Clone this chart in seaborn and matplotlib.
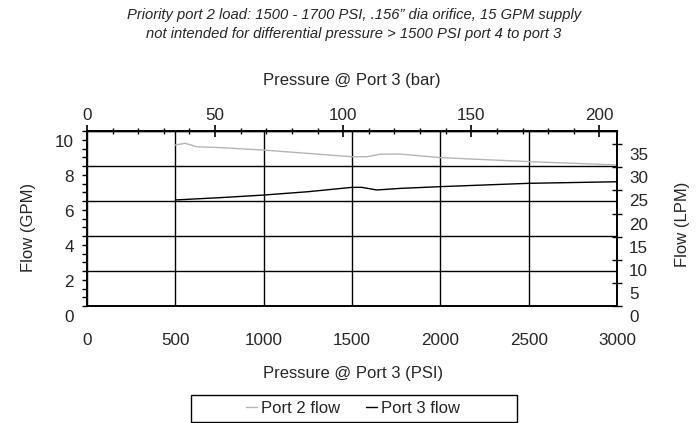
import numpy as np
import pandas as pd
import matplotlib
matplotlib.use("Agg")
import matplotlib.pyplot as plt
import matplotlib.transforms as mtransforms
from matplotlib.ticker import MultipleLocator
from matplotlib.patches import Rectangle
import seaborn as sns

# ---------------- data ----------------
title_lines = [
    "Priority port 2 load: 1500 - 1700 PSI, .156\u201d dia orifice, 15 GPM supply",
    "not intended for differential pressure > 1500 PSI port 4 to port 3",
]
series_names = ["Port 2 flow", "Port 3 flow"]
port2_psi = [500, 555, 621, 753, 1000, 1250, 1500, 1583, 1658, 1733, 1772, 2000, 2500, 3000]
port2_gpm = [9.20, 9.30, 9.10, 9.05, 8.91, 8.72, 8.53, 8.53, 8.67, 8.68, 8.68, 8.48, 8.25, 8.06]
port3_psi = [500, 753, 1000, 1250, 1500, 1555, 1640, 1772, 2000, 2500, 3000]
port3_gpm = [6.06, 6.19, 6.34, 6.53, 6.78, 6.78, 6.63, 6.72, 6.82, 7.01, 7.10]
x_ticks_psi = [0, 500, 1000, 1500, 2000, 2500, 3000]
x_ticks_bar = [0, 50, 100, 150, 200]
y_ticks_gpm = [0, 2, 4, 6, 8, 10]
y_ticks_lpm = [0, 5, 10, 15, 20, 25, 30, 35]
x_label_psi = "Pressure @ Port 3 (PSI)"
x_label_bar = "Pressure @ Port 3 (bar)"
y_label_gpm = "Flow (GPM)"
y_label_lpm = "Flow (LPM)"
PSI_PER_BAR = 14.5038
LPM_PER_GPM = 3.78541

df = pd.concat([
    pd.DataFrame({"psi": port2_psi, "gpm": port2_gpm, "series": series_names[0]}),
    pd.DataFrame({"psi": port3_psi, "gpm": port3_gpm, "series": series_names[1]}),
])

# ---------------- style ----------------
sns.set_style("white")
plt.rcParams["font.family"] = ["Liberation Sans", "DejaVu Sans"]
plt.rcParams["axes.linewidth"] = 1.0

TICK_FS = 12.3
LABEL_FS = 12
W, H, DPI = 700, 423, 100
fig = plt.figure(figsize=(W / DPI, H / DPI), dpi=DPI)
ax = fig.add_axes([87 / W, 1 - 306 / H, 530 / W, 175 / H])

palette = {series_names[0]: "#b5b5b5", series_names[1]: "#000000"}
sns.lineplot(data=df, x="psi", y="gpm", hue="series", palette=palette,
             estimator=None, linewidth=1.0, legend=False, ax=ax)
data_lines = list(ax.get_lines())

ax.set_xlim(0, 3000)
ax.set_ylim(0, 10)
ax.set_xticks(x_ticks_psi)
ax.xaxis.set_minor_locator(MultipleLocator(100))
ax.set_yticks(y_ticks_gpm)
ax.yaxis.set_minor_locator(MultipleLocator(0.5))
ax.grid(True, which="major", color="black", linewidth=1.0)
ax.set_axisbelow(True)
for s in ax.spines.values():
    s.set_color("black")
    s.set_linewidth(1.2)

ax.tick_params(axis="x", which="both", direction="out", length=3.6, width=1,
               color="black", labelsize=TICK_FS, pad=15.5, top=False)
ax.tick_params(axis="y", which="both", direction="out", length=3.6, width=1,
               color="black", labelsize=TICK_FS, pad=6)
ax.set_xlabel(x_label_psi, fontsize=LABEL_FS)
ax.set_ylabel(y_label_gpm, fontsize=LABEL_FS)
ax.xaxis.set_label_coords(0.502, -0.34)
ax.yaxis.set_label_coords(-0.0963, 0.451)

off_down = mtransforms.ScaledTranslation(0, -0.10, fig.dpi_scale_trans)
for lbl in ax.get_yticklabels():
    lbl.set_transform(lbl.get_transform() + off_down)

# right axis (LPM)
ax2 = ax.twinx()
ax2.set_ylim(0, 10 * LPM_PER_GPM)
ax2.set_yticks(y_ticks_lpm)
ax2.tick_params(axis="y", direction="inout", length=7.5, width=1, color="black",
                labelsize=TICK_FS, pad=5)
ax2.set_ylabel(y_label_lpm, fontsize=LABEL_FS)
ax2.yaxis.set_label_coords(1.109, 0.469)
for s in ax2.spines.values():
    s.set_color("black")
    s.set_linewidth(1.2)
for lbl in ax2.get_yticklabels():
    lbl.set_transform(lbl.get_transform() + off_down)

# top axis (bar)
secx = ax.secondary_xaxis("top", functions=(lambda p: p / PSI_PER_BAR,
                                            lambda b: b * PSI_PER_BAR))
secx.set_xticks(x_ticks_bar)
secx.xaxis.set_minor_locator(MultipleLocator(10))
secx.tick_params(axis="x", which="major", direction="inout", length=9, width=1.2,
                 color="black", labelsize=TICK_FS, pad=1)
secx.tick_params(axis="x", which="minor", direction="inout", length=5, width=1,
                 color="black")
secx.set_xlabel(x_label_bar, fontsize=LABEL_FS, labelpad=17)

# titles
fig.text(354 / W, 1 - 15 / H, title_lines[0], ha="center", va="center",
         fontsize=10.6, style="italic")
fig.text(354 / W, 1 - 34 / H, title_lines[1], ha="center", va="center",
         fontsize=10.6, style="italic")

# legend
fig.patches.append(Rectangle((191 / W, 1 - 422 / H), 326 / W, 27 / H,
                             transform=fig.transFigure, fill=False,
                             edgecolor="black", linewidth=1.0))
fig.legend(data_lines, series_names, loc="center", bbox_to_anchor=(353 / W, 1 - 408 / H),
           ncol=2, frameon=False, fontsize=LABEL_FS, handlelength=0.66,
           handletextpad=0.27, columnspacing=1.5, borderpad=0)

fig.savefig("out.png", dpi=DPI)
